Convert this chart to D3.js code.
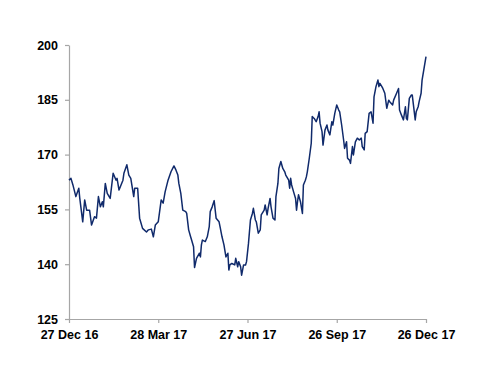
<html>
  <head>
    <style>
      body { margin: 0; background: #fff; }
      text { font-family: "Liberation Sans", Arial, sans-serif; font-weight: bold; }
    </style>
  </head>
  <body>
    <svg></svg>
    <script src="https://d3js.org/d3.v7.min.js"></script>
    <script>
      let width = 500,
        height = 386;

      // days after 27 Dec 16, and closing level
      const dayOffsets = [
        0, 2, 4, 7, 10, 11, 14, 16, 18, 21, 23, 26, 28, 30, 32, 34, 35, 37, 39, 42,
        45, 48, 49, 51, 55, 56, 59, 61, 63, 66, 67, 70, 72, 75, 79,
        81, 84, 86, 88, 91, 94, 96, 98, 101, 104, 107, 109, 111, 112, 114, 116, 119, 120,
        122, 124, 125, 127, 128, 130, 133, 134, 135, 136, 139, 141, 143, 144, 146, 148,
        150, 153, 154, 156, 158, 160,
        162, 163, 164, 166, 169, 170, 172, 173, 175, 176, 178, 180, 181, 183, 185, 187,
        188, 190, 191, 193, 195, 196, 199, 200, 202, 203, 205, 206, 208, 210, 211, 213,
        214, 216, 218, 220, 221, 224, 225, 226, 227, 229, 231, 232, 233, 234, 236, 238,
        239, 241, 242,
        243, 245, 247, 248, 250, 252, 254, 255, 256, 258, 259, 261, 263, 264, 266, 268,
        269, 271, 273, 275, 276, 278, 280, 281, 283, 284, 286, 287, 288, 289, 290, 292,
        294, 296, 298, 299, 301, 302, 304, 306, 308, 310, 311, 313, 315, 316, 317,
        319, 320, 322, 324, 326, 327, 330, 331, 334, 336, 337, 339, 341, 343, 344, 345,
        347, 349, 350, 353, 354, 356, 357, 359, 360, 362, 364
      ];
      const prices = [
        163.0, 163.5, 161.7, 158.5, 160.8, 158.0, 151.6, 157.6, 154.8, 154.8, 150.7, 153.0,
        152.6, 158.5, 155.7, 157.1, 155.7, 162.1, 159.4, 158.0, 164.9, 163.0, 163.5, 160.3,
        163.0, 164.9, 167.2, 164.4, 163.5, 158.5, 160.8, 160.8, 152.6, 149.8, 148.8,
        149.4, 149.6, 147.5, 150.7, 151.6, 157.6, 156.7, 159.8, 163.0, 165.3, 166.9, 165.8,
        164.4, 162.1, 159.4, 154.8, 154.4, 153.9, 149.4, 147.5, 146.6, 144.8, 139.1, 141.6,
        143.0, 142.0, 145.3, 146.6, 146.2, 147.5, 150.3, 154.4, 155.7, 157.4, 152.6, 151.6,
        150.3, 147.5, 145.3, 142.0,
        143.0, 138.4, 139.8, 140.2, 139.8, 141.6, 139.3, 140.7, 139.3, 137.0, 139.8, 139.8,
        140.7, 145.7, 152.1, 153.9, 155.3, 152.1, 151.6, 148.5, 149.4, 153.5, 154.8, 156.2,
        153.5, 155.3, 158.0, 155.7, 152.6, 152.1, 158.5, 162.1, 166.2, 168.1, 166.2, 165.3,
        164.4, 163.0, 160.8, 163.5, 161.7, 159.8, 158.0, 154.8, 157.1, 159.0, 157.1, 153.9,
        161.7, 163.0, 163.9,
        165.3, 169.0, 173.1, 180.4, 179.9, 179.0, 180.4, 181.7, 178.6, 176.3, 172.6, 176.7,
        178.1, 176.7, 175.4, 179.0, 178.1, 181.3, 183.6, 182.2, 181.7, 178.1, 174.0, 171.7,
        173.5, 169.0, 168.5, 167.6, 169.9, 172.2, 169.9, 173.5, 174.5, 174.0, 174.5, 172.2,
        171.3, 175.8, 176.3, 181.3, 181.7, 178.6, 185.8, 188.6, 190.4, 188.6, 189.5,
        188.6, 188.1, 186.8, 182.7, 184.9, 184.5, 183.6, 184.9, 186.8, 188.1, 182.2, 180.8,
        179.5, 183.1, 179.9, 179.5, 185.4, 186.3, 186.3, 179.5, 181.7, 183.1, 184.5, 186.8,
        190.4, 193.6, 196.8
      ];
      const yTicks = [125, 140, 155, 170, 185, 200];
      const xTickDates = ["2016-12-27", "2017-03-28", "2017-06-27", "2017-09-26", "2017-12-26"];

      let parse = d3.timeParse("%Y-%m-%d");
      let start = parse(xTickDates[0]);
      let data = dayOffsets.map((d, i) => ({
        date: d3.timeDay.offset(start, d),
        value: prices[i]
      }));

      let svg = d3.select("svg").attr("width", width).attr("height", height);

      let x = d3.scaleTime()
        .domain([start, parse(xTickDates[xTickDates.length - 1])])
        .range([69, 426]);
      let y = d3.scaleLinear().domain([125, 200]).range([319, 45]);

      let fmt = d3.timeFormat("%d %b %y");

      let xAxis = svg.append("g")
        .attr("transform", "translate(0,319)")
        .call(d3.axisBottom(x)
          .tickValues(xTickDates.map(parse))
          .tickFormat((d) => fmt(d).replace(/^0/, ""))
          .tickSize(4)
          .tickSizeOuter(0)
          .tickPadding(7));

      let yAxis = svg.append("g")
        .attr("transform", "translate(69,0)")
        .call(d3.axisLeft(y)
          .tickValues(yTicks)
          .tickSize(4)
          .tickSizeOuter(0)
          .tickPadding(7));

      [xAxis, yAxis].forEach((g) => {
        g.select(".domain").attr("stroke", "#a6a6a6").attr("stroke-width", 1.2);
        g.selectAll(".tick line").attr("stroke", "#a6a6a6").attr("stroke-width", 1.2);
        g.selectAll(".tick text")
          .attr("fill", "#000")
          .style("font-size", "12.5px")
          .style("font-family", "'Liberation Sans', Arial, sans-serif")
          .style("font-weight", "bold");
      });

      let line = d3.line()
        .x((d) => x(d.date))
        .y((d) => y(d.value));

      svg.append("path")
        .datum(data)
        .attr("d", line)
        .attr("fill", "none")
        .attr("stroke", "#102a6b")
        .attr("stroke-width", 1.5)
        .attr("stroke-linejoin", "round");
    </script>
  </body>
</html>
